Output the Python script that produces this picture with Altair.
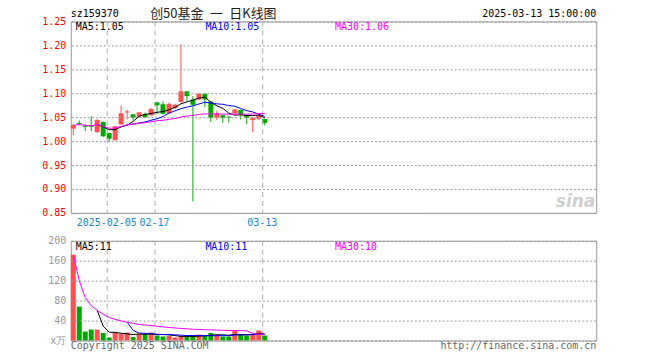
import altair as alt
import pandas as pd

# ---------------- data ----------------
dates = ["2025-01-20", "2025-01-21", "2025-01-22", "2025-01-23", "2025-01-24", "2025-01-27",
         "2025-02-05", "2025-02-06", "2025-02-07", "2025-02-10", "2025-02-11", "2025-02-12",
         "2025-02-13", "2025-02-14", "2025-02-17", "2025-02-18", "2025-02-19", "2025-02-20",
         "2025-02-21", "2025-02-24", "2025-02-25", "2025-02-26", "2025-02-27", "2025-02-28",
         "2025-03-03", "2025-03-04", "2025-03-05", "2025-03-06", "2025-03-07", "2025-03-10",
         "2025-03-11", "2025-03-12", "2025-03-13"]
opens = [1.026, 1.038, 1.032, 1.033, 1.019, 1.040, 1.017, 1.002, 1.035, 1.060, 1.056, 1.051,
         1.056, 1.054, 1.081, 1.077, 1.058, 1.069, 1.082, 1.104, 1.087, 1.087, 1.099, 1.083,
         1.049, 1.054, 1.051, 1.058, 1.065, 1.054, 1.044, 1.047, 1.046]
closes = [1.033, 1.036, 1.030, 1.030, 1.044, 1.010, 1.005, 1.031, 1.058, 1.062, 1.049, 1.060,
          1.050, 1.067, 1.075, 1.057, 1.078, 1.076, 1.104, 1.094, 1.076, 1.099, 1.087, 1.049,
          1.058, 1.049, 1.049, 1.066, 1.054, 1.049, 1.049, 1.054, 1.038]
highs = [1.036, 1.043, 1.035, 1.052, 1.046, 1.041, 1.018, 1.032, 1.074, 1.066, 1.057, 1.061,
         1.060, 1.069, 1.082, 1.083, 1.080, 1.078, 1.202, 1.104, 1.094, 1.100, 1.100, 1.084,
         1.063, 1.055, 1.052, 1.067, 1.066, 1.055, 1.050, 1.056, 1.047]
lows = [1.012, 1.033, 1.021, 1.021, 1.017, 1.009, 0.998, 1.001, 1.034, 1.045, 1.043, 1.049,
        1.049, 1.052, 1.056, 1.056, 1.056, 1.067, 1.080, 1.083, 0.874, 1.085, 1.071, 1.040,
        1.044, 1.038, 1.039, 1.055, 1.045, 1.035, 1.019, 1.044, 1.033]
volumes = [172, 68, 18, 22, 22, 15, 6, 16, 14, 16, 7, 13, 13, 16, 10, 8, 9, 6, 9, 8, 8, 12,
           10, 15, 12, 8, 8, 19, 12, 10, 12, 20, 10]

tick_dates = ["2025-02-05", "2025-02-17", "2025-03-13"]
tick_labels = ["2025-02-05", "02-17", "03-13"]
price_ticks = [0.85, 0.90, 0.95, 1.00, 1.05, 1.10, 1.15, 1.20, 1.25]
vol_ticks = [0, 40, 80, 120, 160, 200]

title_text = "创50基金\u2002一\u2002日K线图"
code_text = "sz159370"
time_text = "2025-03-13 15:00:00"
price_ma_labels = ["MA5:1.05", "MA10:1.05", "MA30:1.06"]
vol_ma_labels = ["MA5:11", "MA10:11", "MA30:10"]

# ---------------- layout constants ----------------
W = 527
H_PRICE = 192
H_VOL = 100
SLOT = 6.0
X0 = -2.5 / SLOT
XDOM = [X0, X0 + W / SLOT]
RED = "#ff5050"
GREEN = "#00a800"
MONO = "DejaVu Sans Mono"
GRID = "#999999"

df = pd.DataFrame({"i": list(range(len(dates))), "date": dates, "open": opens,
                   "close": closes, "high": highs, "low": lows, "vol": volumes})
df["dir"] = ["up" if c >= o else "down" for o, c in zip(opens, closes)]

tick_df = pd.DataFrame({"date": tick_dates, "label": tick_labels})
tick_df["pos"] = [dates.index(d) + X0 for d in tick_dates]

xs = alt.Scale(domain=XDOM, nice=False, zero=False, padding=0)
X = alt.X("i:Q", scale=xs, axis=None)
COLOR = alt.Color("dir:N", scale=alt.Scale(domain=["up", "down"], range=[RED, GREEN]), legend=None)

ys_p = alt.Scale(domain=[0.85, 1.25], nice=False, zero=False, padding=0)
ys_v = alt.Scale(domain=[0, 200], nice=False, padding=0)

ax_p = alt.Axis(values=price_ticks, format=".2f", grid=False, ticks=False, domain=False,
                labelColor="#ff0000", labelFont=MONO, labelFontSize=10, labelPadding=5,
                title=None)
ax_v = alt.Axis(values=vol_ticks, grid=False, ticks=False, domain=False,
                labelColor="#999999", labelFont=MONO, labelFontSize=10, labelPadding=5,
                title=None, labelExpr="datum.value == 0 ? 'x万' : datum.label")

base = alt.Chart(df)


def txt(s, x, y, color="black", align="left", font=MONO, size=10, **kw):
    return alt.Chart(pd.DataFrame({"t": [s]})).mark_text(
        align=align, baseline="alphabetic", font=font, fontSize=size, color=color, **kw
    ).encode(x=alt.value(x), y=alt.value(y), text="t:N")


def hgrid(ticks, yscale, yaxis):
    return alt.Chart(pd.DataFrame({"v": ticks})).mark_rule(
        color=GRID, strokeDash=[2, 2], strokeWidth=1, yOffset=0.5
    ).encode(y=alt.Y("v:Q", scale=yscale, axis=yaxis, title=None))


def ma_lines(field, yscale, yaxis):
    out = []
    for n, col in [(5, "black"), (10, "#0000ff"), (30, "#ff00ff")]:
        c = base.transform_window(
            ma=f"mean({field})", frame=[-(n - 1), 0], sort=[alt.SortField("i")]
        )
        if n < 30:
            c = c.transform_filter(f"datum.i >= {n - 1}")
        out.append(c.mark_line(color=col, strokeWidth=1).encode(
            x=X, y=alt.Y("ma:Q", scale=yscale, axis=yaxis, title=None)))
    return out


vlines = alt.Chart(tick_df).mark_rule(
    color="#aaaaaa", strokeDash=[5, 4], strokeWidth=1, xOffset=0.5
).encode(x=alt.X("pos:Q", scale=xs, axis=None))

# ---------------- price panel ----------------
wicks = base.mark_rule(strokeWidth=1).encode(
    x=X, y=alt.Y("low:Q", scale=ys_p, axis=ax_p, title=None), y2="high:Q", color=COLOR)
bodies = base.mark_bar(size=5).encode(
    x=X, y=alt.Y("open:Q", scale=ys_p, axis=ax_p, title=None), y2="close:Q", color=COLOR)

date_labels = alt.Chart(tick_df).mark_text(
    font=MONO, fontSize=10, color="#1a88cc", baseline="alphabetic", align="center"
).encode(x=alt.X("pos:Q", scale=xs, axis=None), y=alt.value(H_PRICE + 13), text="label:N")

anchor = alt.Chart(pd.DataFrame({"a": [0]})).mark_rule(strokeOpacity=0).encode(
    x=alt.value(-70), x2=alt.value(590), y=alt.value(-20))

price = alt.layer(
    wicks, bodies, hgrid(price_ticks, ys_p, ax_p), anchor, vlines,
    *ma_lines("close", ys_p, ax_p), date_labels,
    txt(code_text, 0, -4),
    txt(title_text, 143, -3, align="center", font="Noto Sans CJK SC", size=13, color="#222"),
    txt(time_text, W, -4, align="right"),
    txt(price_ma_labels[0], 5, 9),
    txt(price_ma_labels[1], 135, 9, color="#0000ff"),
    txt(price_ma_labels[2], 265, 9, color="#ff00ff"),
    txt("sina", W - 1, H_PRICE - 6, align="right", font="DejaVu Sans", size=17,
        color="#d0d0d0", fontStyle="italic", fontWeight="bold"),
).properties(width=W, height=H_PRICE)

# ---------------- volume panel ----------------
vbars = base.mark_bar(size=5).encode(
    x=X, y=alt.Y("vol:Q", scale=ys_v, axis=ax_v, title=None), color=COLOR)

volume = alt.layer(
    vbars, hgrid(vol_ticks, ys_v, ax_v), vlines, *ma_lines("vol", ys_v, ax_v),
    txt(vol_ma_labels[0], 5, 9),
    txt(vol_ma_labels[1], 135, 9, color="#0000ff"),
    txt(vol_ma_labels[2], 265, 9, color="#ff00ff"),
    txt("Copyright 2025 SINA.COM", 0, H_VOL + 9, color="#666666"),
    txt("http://finance.sina.com.cn", W, H_VOL + 9, color="#666666", align="right"),
).properties(width=W, height=H_VOL)

chart = alt.vconcat(price, volume, spacing=28, bounds="flush").properties(
    padding=0, background="white"
).configure_view(stroke="#999999", strokeWidth=1)

chart.save("out.html", embed_options={"renderer": "svg", "actions": False})
